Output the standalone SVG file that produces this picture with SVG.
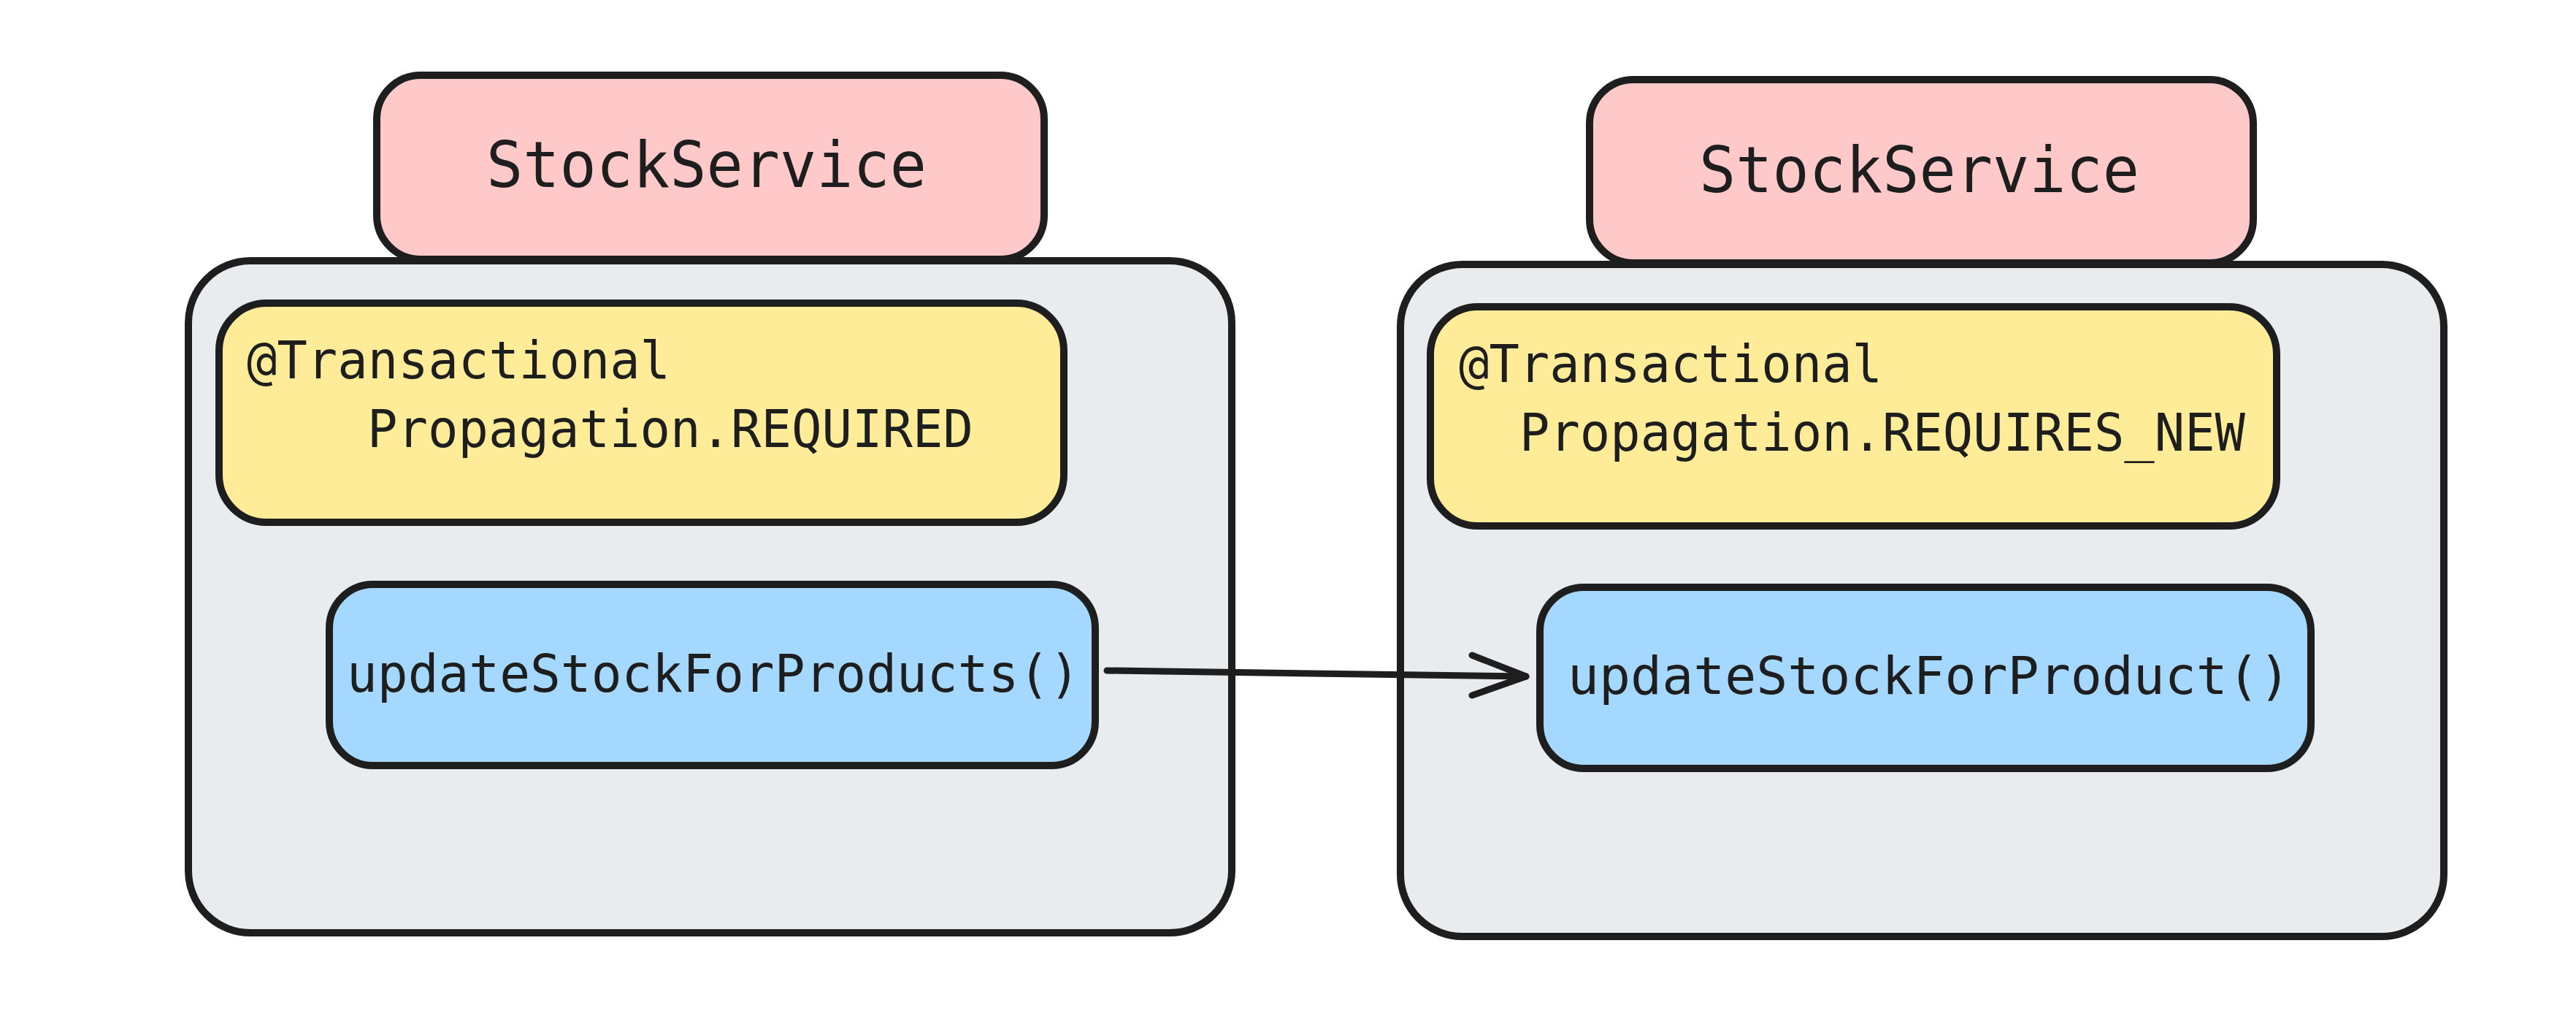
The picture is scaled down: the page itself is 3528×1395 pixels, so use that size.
<svg xmlns="http://www.w3.org/2000/svg" width="3528" height="1395" viewBox="0 0 3528 1395">
  <style>
    .box { stroke: #1e1e1e; stroke-width: 10; }
    .svc { fill: #e9ecef; }
    .name { fill: #ffc9c9; }
    .ann { fill: #ffec99; }
    .meth { fill: #a5d8ff; }
    .t { font-family: "DejaVu Sans Mono", "Liberation Mono", monospace; fill: #1e1e1e; }
    .big { font-size: 88px; }
    .mid { font-size: 71px; }
    .conn { stroke: #1e1e1e; stroke-width: 9; fill: none; stroke-linecap: round; stroke-linejoin: round; }
  </style>
  <rect width="3528" height="1395" fill="#ffffff"/>

  <g id="left-service">
    <rect class="box svc" x="258" y="357" width="1429" height="920" rx="85"/>
  </g>
  <g id="left-name">
    <rect class="box name" x="516" y="103" width="914" height="252" rx="60"/>
    <text class="t big" x="666" y="256" textLength="603" lengthAdjust="spacingAndGlyphs">StockService</text>
  </g>
  <g id="left-annotation">
    <rect class="box ann" x="300" y="415" width="1157" height="300" rx="65"/>
    <text class="t mid" x="338" y="518" textLength="580" lengthAdjust="spacingAndGlyphs">@Transactional</text>
    <text class="t mid" x="503" y="612" textLength="830" lengthAdjust="spacingAndGlyphs">Propagation.REQUIRED</text>
  </g>
  <g id="left-method">
    <rect class="box meth" x="451" y="800" width="1049" height="248" rx="60"/>
    <text class="t mid" x="475" y="947" textLength="1004" lengthAdjust="spacingAndGlyphs">updateStockForProducts()</text>
  </g>

  <g id="right-service">
    <rect class="box svc" x="1918" y="362" width="1429" height="920" rx="85"/>
  </g>
  <g id="right-name">
    <rect class="box name" x="2177" y="109" width="909" height="251" rx="60"/>
    <text class="t big" x="2327" y="263" textLength="603" lengthAdjust="spacingAndGlyphs">StockService</text>
  </g>
  <g id="right-annotation">
    <rect class="box ann" x="1959" y="420" width="1159" height="300" rx="65"/>
    <text class="t mid" x="1998" y="523" textLength="580" lengthAdjust="spacingAndGlyphs">@Transactional</text>
    <text class="t mid" x="2081" y="617" textLength="994" lengthAdjust="spacingAndGlyphs">Propagation.REQUIRES_NEW</text>
  </g>
  <g id="right-method">
    <rect class="box meth" x="2109" y="804" width="1056" height="248" rx="60"/>
    <text class="t mid" x="2147" y="950" textLength="990" lengthAdjust="spacingAndGlyphs">updateStockForProduct()</text>
  </g>

  <g id="connectors">
    <path class="conn" d="M1516 918 L2090 926"/>
    <path class="conn" d="M2016 897 L2090 926 L2016 952"/>
  </g>
</svg>
